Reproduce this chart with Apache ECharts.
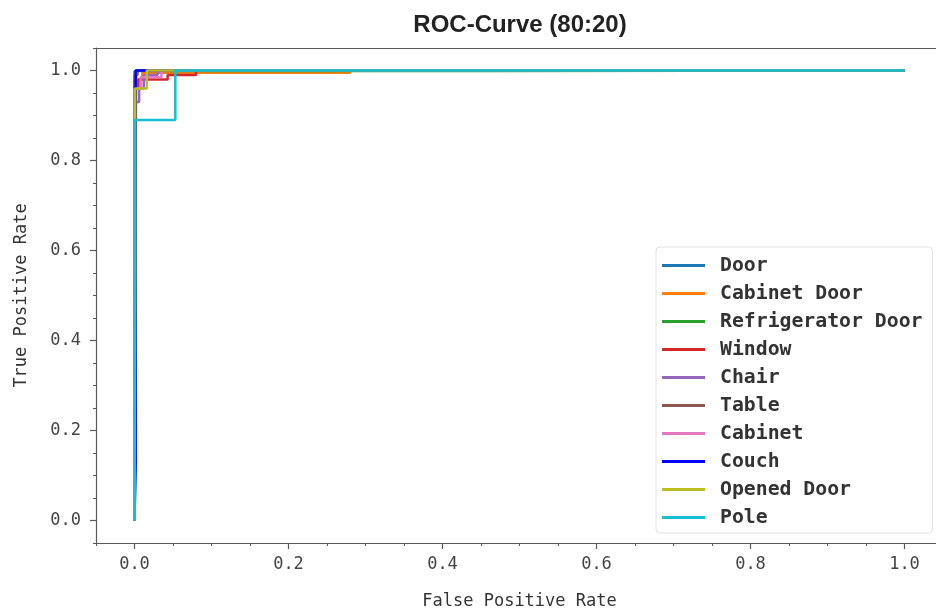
<!DOCTYPE html>
<html>
<head>
<meta charset="utf-8">
<script src="https://cdn.jsdelivr.net/npm/echarts@6/dist/echarts.min.js"></script>
<style>
  html, body { margin: 0; padding: 0; background: #fff; }
  #chart { width: 936px; height: 610px; }
</style>
</head>
<body>
<div id="chart"></div>
<script>
// class names, in plotting order
const classNames = ['Door', 'Cabinet Door', 'Refrigerator Door', 'Window', 'Chair',
  'Table', 'Cabinet', 'Couch', 'Opened Door', 'Pole']

// ROC points [fpr, tpr]
const door = [[0, 0], [0.001, 0.13], [0.001, 0.55], [0.002, 1], [1, 1]]
const cabinetDoor = [[0, 0], [0, 0.98], [0.01, 0.98], [0.01, 0.995], [0.28, 0.995], [0.28, 1], [1, 1]]
const refrigeratorDoor = [[0, 0], [0, 0.999], [0.46, 0.999], [0.46, 1], [1, 1]]
const windowRoc = [[0, 0], [0, 0.96], [0.005, 0.96], [0.005, 0.98], [0.043, 0.98], [0.043, 0.99], [0.08, 0.99], [0.08, 1], [1, 1]]
const chair = [[0, 0], [0, 0.93], [0.006, 0.93], [0.006, 0.96], [0.012, 0.96], [0.012, 0.99], [0.03, 0.99], [0.03, 1], [1, 1]]
const table = [[0, 0], [0, 0.99], [0.004, 0.99], [0.004, 1], [1, 1]]
const cabinet = [[0, 0], [0, 0.96], [0.008, 0.96], [0.008, 0.985], [0.035, 0.985], [0.035, 1], [1, 1]]
const couch = [[0, 0], [0.0015, 0.13], [0.0015, 1], [0.012, 1], [1, 1]]
const openedDoor = [[0, 0], [0.001, 0.56], [0.001, 0.96], [0.016, 0.96], [0.016, 1], [1, 1]]
const pole = [[0, 0], [0, 0.89], [0.053, 0.89], [0.053, 1], [1, 1]]

const rocData = [door, cabinetDoor, refrigeratorDoor, windowRoc, chair, table, cabinet, couch, openedDoor, pole]
const colors = ['#1f77b4', '#ff7f0e', '#2ca02c', '#d62728', '#9467bd',
  '#8c564b', '#e377c2', '#0000ff', '#bcbd22', '#17becf']

// ticks
const majorTicks = [0, 0.2, 0.4, 0.6, 0.8, 1.0]
const minorTicks = [-0.05, 0.05, 0.1, 0.15, 0.25, 0.3, 0.35, 0.45, 0.5, 0.55, 0.65, 0.7, 0.75, 0.85, 0.9, 0.95, 1.05]

const mono = 'DejaVu Sans Mono'
const axisGrey = '#5a5a5a'

function majorAxis(name, isY) {
  return {
    type: 'value',
    min: -0.05,
    max: 1.05,
    position: isY ? 'left' : 'bottom',
    name: name,
    nameLocation: 'middle',
    nameGap: isY ? 66 : 50,
    nameTextStyle: { fontFamily: mono, fontSize: 17, color: '#333' },
    axisLine: { show: true, onZero: false, lineStyle: { color: axisGrey, width: 1.2 } },
    axisTick: { show: true, length: 6, lineStyle: { color: axisGrey, width: 1.2 }, customValues: majorTicks },
    axisLabel: {
      fontFamily: mono, fontSize: 17, color: '#444', margin: isY ? 15 : 13,
      customValues: majorTicks,
      formatter: v => v.toFixed(1)
    },
    splitLine: { show: false }
  }
}

function minorAxis(isY) {
  return {
    type: 'value',
    min: -0.05,
    max: 1.05,
    position: isY ? 'left' : 'bottom',
    axisLine: { show: false, onZero: false },
    axisTick: { show: true, length: 3, lineStyle: { color: axisGrey, width: 1 }, customValues: minorTicks },
    axisLabel: { show: false },
    splitLine: { show: false }
  }
}

// top spine only (the right one falls outside the picture)
function topSpine() {
  return {
    type: 'value',
    min: -0.05,
    max: 1.05,
    position: 'top',
    axisLine: { show: true, onZero: false, lineStyle: { color: axisGrey, width: 1.2 } },
    axisTick: { show: false },
    axisLabel: { show: false },
    splitLine: { show: false }
  }
}

const chart = echarts.init(document.getElementById('chart'))

const option = {
  animation: false,
  backgroundColor: '#fff',
  title: {
    text: 'ROC-Curve (80:20)',
    left: 515,
    textAlign: 'center',
    top: 8,
    textStyle: { fontFamily: 'Liberation Sans', fontSize: 24, fontWeight: 'bold', color: '#222' }
  },
  grid: {
    left: 96,
    top: 48,
    right: -7,
    bottom: 67,
    show: false,
    outerBoundsMode: 'none'
  },
  legend: {
    orient: 'vertical',
    left: 656,
    top: 247,
    padding: [7, 10, 4, 6],
    itemGap: 5,
    itemWidth: 43,
    itemHeight: 3,
    icon: 'rect',
    backgroundColor: '#fff',
    borderColor: '#e2e2e2',
    borderWidth: 1,
    borderRadius: 4,
    textStyle: { fontFamily: mono, fontSize: 19.8, fontWeight: 'bold', color: '#333', lineHeight: 23, padding: [0, 0, 0, 10] },
    data: classNames
  },
  xAxis: [majorAxis('False Positive Rate', false), minorAxis(false), topSpine()],
  yAxis: [majorAxis('True Positive Rate', true), minorAxis(true)],
  series: classNames.map((name, i) => ({
    name: name,
    type: 'line',
    xAxisIndex: 0,
    yAxisIndex: 0,
    data: rocData[i],
    showSymbol: false,
    symbol: 'none',
    color: colors[i],
    lineStyle: { color: colors[i], width: 2.5 },
    z: 2 + i
  }))
}

chart.setOption(option)
</script>
</body>
</html>
